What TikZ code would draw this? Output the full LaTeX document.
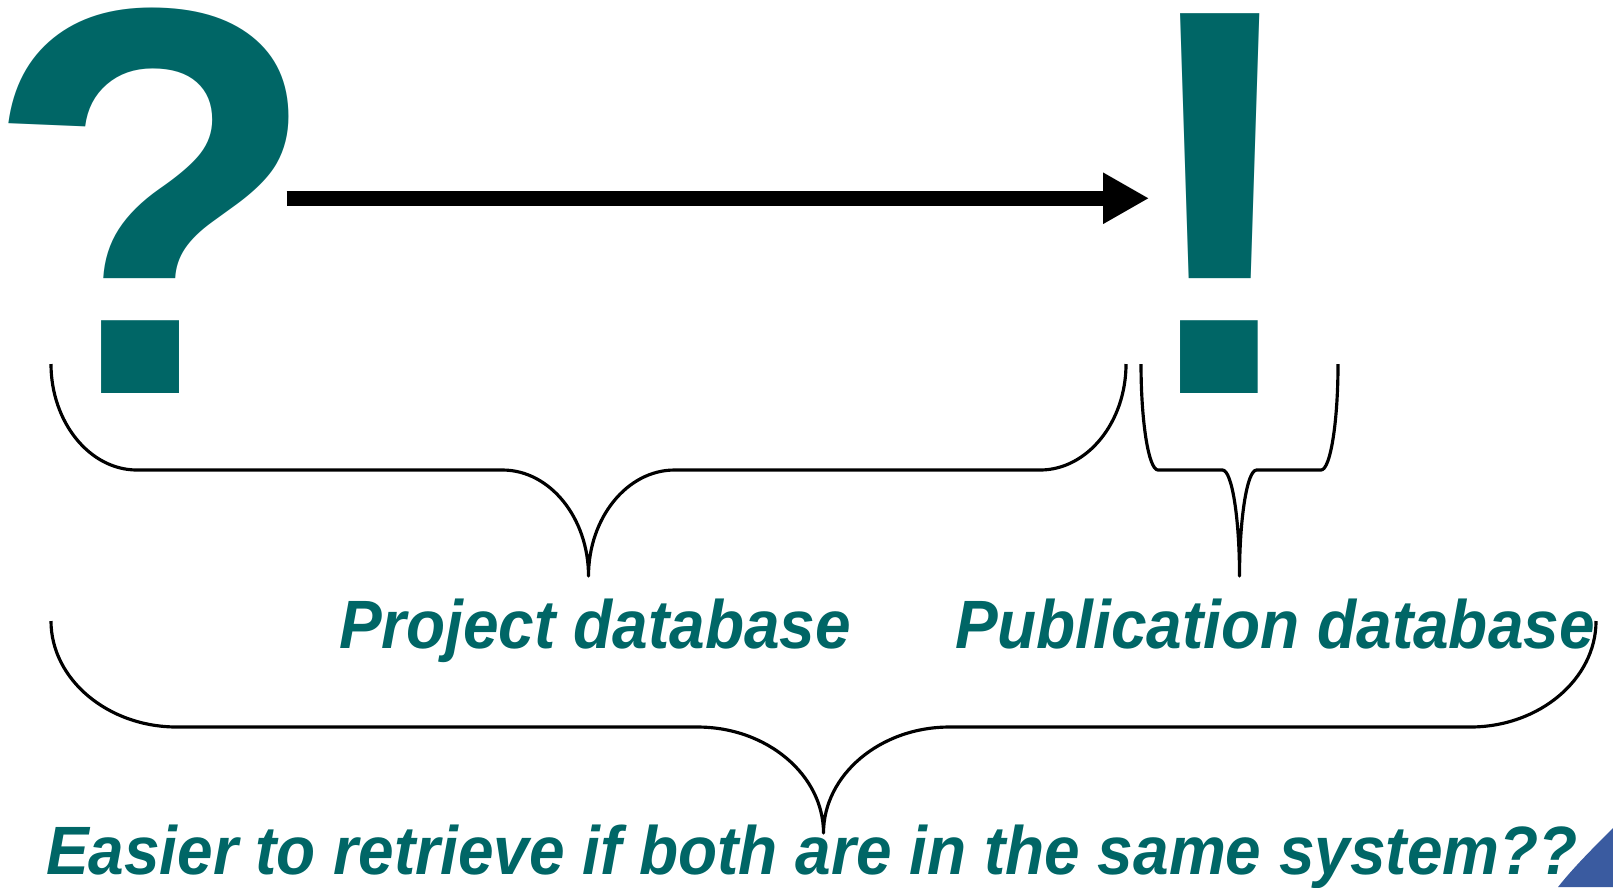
\documentclass[tikz,border=0pt]{standalone}
\usepackage{fontspec}
\setmainfont{Liberation Sans}
\newfontfamily\tallsans[FakeStretch=0.935]{Liberation Sans}
\usetikzlibrary{arrows.meta}

\definecolor{qteal}{RGB}{0,102,102}
\definecolor{cornerblue}{RGB}{58,91,160}

% brace: left x, right x, top y, corner width (half height 106)
\newcommand\curlybrace[4]{%
  \draw[bracket] (#1,#3)
    .. controls (#1,{#3+58}) and ({#1+0.448*#4},{#3+106}) .. ({#1+#4},{#3+106})
    -- ({(#1+#2)/2-#4},{#3+106})
    .. controls ({(#1+#2)/2-0.448*#4},{#3+106}) and ({(#1+#2)/2},{#3+154}) .. ({(#1+#2)/2},{#3+212})
    .. controls ({(#1+#2)/2},{#3+154}) and ({(#1+#2)/2+0.448*#4},{#3+106}) .. ({(#1+#2)/2+#4},{#3+106})
    -- ({#2-#4},{#3+106})
    .. controls ({#2-0.448*#4},{#3+106}) and (#2,{#3+58}) .. (#2,#3);}

\begin{document}
\begin{tikzpicture}[x=0.01cm, y=-0.01cm,
  big/.style={text=qteal, inner sep=0pt, outer sep=0pt, anchor=base,
    font=\fontsize{157}{157}\selectfont\bfseries},
  label/.style={text=qteal, inner sep=0pt, outer sep=0pt, anchor=base west,
    font=\tallsans\fontsize{19.45}{19.45}\selectfont\bfseries\itshape},
  bracket/.style={black, line width=0.9pt, line join=round},
  flow/.style={black, line width=0.15cm, -{Triangle[length=0.46cm, width=0.48cm]}}]
\useasboundingbox (0,0) rectangle (1613,887);

\node[big] (q) at (152,393) {?};
\node[big] (excl) at (1220,393) {!};
\draw[flow] ([shift={(-34,-2)}]q.east) -- ([shift={(21,-2)}]q.east -| excl.west);

\curlybrace{51}{1126}{364}{86}
\curlybrace{1141}{1338}{364}{17}
\curlybrace{51}{1596}{621}{126}

\node[label] (proj) at (339,648) {Project database};
\node[label] (pub) at (955,648) {Publication database};
\node[label] (both) at (46,874) {Easier to retrieve if both are in the same system??};

\fill[cornerblue] (1613,828) .. controls (1592,849) and (1573,868) .. (1558,887) -- (1613,887) -- cycle;
\end{tikzpicture}
\end{document}
